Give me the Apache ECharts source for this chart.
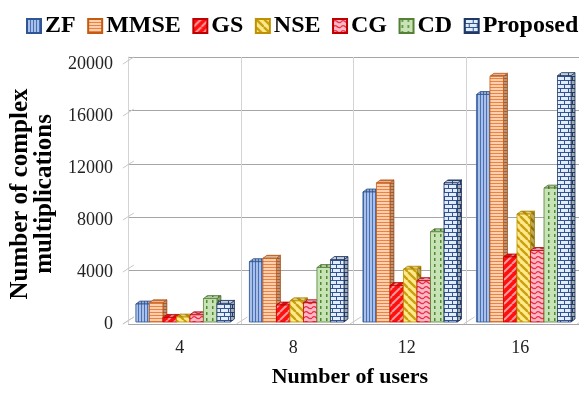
<!DOCTYPE html>
<html>
<head>
<meta charset="utf-8">
<script src="https://cdn.jsdelivr.net/npm/echarts@6/dist/echarts.min.js"></script>
<style>
  html, body { margin: 0; padding: 0; background: #fff; }
  #chart { width: 579px; height: 393px; }
</style>
</head>
<body>
<div id="chart"></div>
<script>
// Number of users on the x axis
const users = ['4', '8', '12', '16'];

// Complex multiplications per detector
const zf       = [1380, 4640, 10000, 17500];
const mmse     = [1480, 4900, 10700, 18900];
const gs       = [350, 1300, 2800, 5000];
const nse      = [380, 1630, 4060, 8300];
const cg       = [550, 1480, 3180, 5500];
const cd       = [1800, 4190, 6940, 10300];
const proposed = [1430, 4800, 10700, 18950];

// Value axis ticks
const yTicks = [0, 4000, 8000, 12000, 16000, 20000];

const seriesNames = ['ZF', 'MMSE', 'GS', 'NSE', 'CG', 'CD', 'Proposed'];
const seriesValues = [zf, mmse, gs, nse, cg, cd, proposed];

// ---- fill patterns ----
function tile(w, h, draw) {
  const c = document.createElement('canvas');
  c.width = w; c.height = h;
  const g = c.getContext('2d');
  draw(g, w, h);
  return c;
}
const patterns = [
  // vertical stripes
  tile(3, 3, (g) => {
    g.fillStyle = '#A9C1E8'; g.fillRect(0, 0, 3, 3);
    g.fillStyle = '#4A6FB5'; g.fillRect(0, 0, 1, 3);
  }),
  // horizontal stripes
  tile(3, 3, (g) => {
    g.fillStyle = '#FBD0B0'; g.fillRect(0, 0, 3, 3);
    g.fillStyle = '#EE8040'; g.fillRect(0, 0, 3, 1);
  }),
  // wide upward diagonal
  tile(8, 8, (g) => {
    g.fillStyle = '#FF1010'; g.fillRect(0, 0, 8, 8);
    g.strokeStyle = '#FF9A9A'; g.lineWidth = 2;
    for (let k = -8; k <= 16; k += 8) {
      g.beginPath(); g.moveTo(k, 8); g.lineTo(k + 8, 0); g.stroke();
    }
  }),
  // wide downward diagonal
  tile(8, 8, (g) => {
    g.fillStyle = '#FFE98A'; g.fillRect(0, 0, 8, 8);
    g.strokeStyle = '#C9A010'; g.lineWidth = 2.4;
    for (let k = -8; k <= 16; k += 8) {
      g.beginPath(); g.moveTo(k, 0); g.lineTo(k + 8, 8); g.stroke();
    }
  }),
  // wave
  tile(8, 5, (g) => {
    g.fillStyle = '#FFB8C4'; g.fillRect(0, 0, 8, 5);
    g.strokeStyle = '#E8304A'; g.lineWidth = 1.3;
    g.beginPath(); g.moveTo(0, 3);
    g.quadraticCurveTo(2, 0.5, 4, 2.5);
    g.quadraticCurveTo(6, 4.5, 8, 3);
    g.stroke();
  }),
  // dashed vertical dots
  tile(6, 6, (g) => {
    g.fillStyle = '#C8E3B6'; g.fillRect(0, 0, 6, 6);
    g.fillStyle = '#4F8A30'; g.fillRect(2, 0, 1.5, 3);
  }),
  // brick
  tile(8, 8, (g) => {
    g.fillStyle = '#E4ECF8'; g.fillRect(0, 0, 8, 8);
    g.fillStyle = '#2F5597';
    g.fillRect(0, 0, 8, 1); g.fillRect(0, 4, 8, 1);
    g.fillRect(0, 1, 1, 3); g.fillRect(4, 5, 1, 3);
  })
];
const borders = ['#2F5597', '#C55A11', '#C00000', '#BF9000', '#C00000', '#548235', '#203864'];

function fillOf(k) { return { image: patterns[k], repeat: 'repeat' }; }

const DX = 4, DY = -3;

function barRenderer(k) {
  return function (params, api) {
    const i = api.value(0), v = api.value(1);
    const top = api.coord([i, v]);
    const base = api.coord([i, 0]);
    const band = api.size([1, 0])[0];
    const bw = band * 0.119;
    const x0 = top[0] - 3.5 * bw + k * bw + 3.5;
    const yT = top[1] - 2, yB = base[1] - 2;
    const x1 = x0 + bw;
    const stroke = borders[k];
    return {
      type: 'group',
      children: [
        { type: 'polygon', shape: { points: [[x1, yT], [x1 + DX, yT + DY], [x1 + DX, yB + DY], [x1, yB]] },
          style: { fill: fillOf(k), stroke: stroke, lineWidth: 0.8 } },
        { type: 'polygon', shape: { points: [[x1, yT], [x1 + DX, yT + DY], [x1 + DX, yB + DY], [x1, yB]] },
          style: { fill: 'rgba(0,0,0,0.28)' } },
        { type: 'polygon', shape: { points: [[x0, yT], [x0 + DX, yT + DY], [x1 + DX, yT + DY], [x1, yT]] },
          style: { fill: fillOf(k), stroke: stroke, lineWidth: 0.8 } },
        { type: 'polygon', shape: { points: [[x0, yT], [x0 + DX, yT + DY], [x1 + DX, yT + DY], [x1, yT]] },
          style: { fill: 'rgba(0,0,0,0.12)' } },
        { type: 'rect', shape: { x: x0, y: yT, width: bw, height: yB - yT },
          style: { fill: fillOf(k), stroke: stroke, lineWidth: 0.8 } }
      ]
    };
  };
}

const barSeries = seriesNames.map((name, k) => ({
  name: name,
  type: 'custom',
  xAxisIndex: 0,
  yAxisIndex: 0,
  z: 5,
  itemStyle: { color: fillOf(k), borderColor: borders[k], borderWidth: 1 },
  renderItem: barRenderer(k),
  encode: { x: 0, y: 1 },
  data: seriesValues[k].map((v, i) => [i, v])
}));

// slanted depth lines for the value ticks and category boundaries
const depthLines = {
  type: 'custom',
  xAxisIndex: 0,
  yAxisIndex: 0,
  silent: true,
  z: 1,
  renderItem: function (params, api) {
    const kind = api.value(0), v = api.value(1);
    const band = api.size([1, 0])[0];
    let x, y;
    if (kind === 0) {
      const p = api.coord([0, v]);
      x = p[0] - band / 2; y = p[1];
    } else {
      const p = api.coord([v, 0]);
      x = p[0] - band / 2; y = p[1];
    }
    return { type: 'line', shape: { x1: x, y1: y, x2: x + 11, y2: y - 7 },
      style: { stroke: '#C8C8C8', lineWidth: 1 } };
  },
  encode: { x: 1, y: 1 },
  data: yTicks.map(v => [0, v]).concat(users.map((u, i) => [1, i]), [[1, users.length]])
};

const serif = '"Liberation Serif", "Times New Roman", serif';

const option = {
  animation: false,
  backgroundColor: '#ffffff',
  legend: {
    data: seriesNames,
    top: 9,
    left: 21,
    width: 590,
    icon: 'rect',
    itemWidth: 14,
    itemHeight: 14,
    itemGap: 11.5,
    textStyle: { fontFamily: serif, fontWeight: 'bold', fontSize: 24, color: '#000', padding: [0, 0, 0, -1] }
  },
  grid: [
    { left: 117, top: 64, width: 460, height: 267 },
    { left: 128, top: 57, width: 460, height: 267 }
  ],
  xAxis: [
    {
      type: 'category', gridIndex: 0, data: users,
      axisLine: { show: false }, axisTick: { show: false },
      axisLabel: { fontFamily: serif, fontSize: 18, color: '#222', margin: 15 },
      name: 'Number of users', nameLocation: 'middle', nameGap: 42,
      nameTextStyle: { fontFamily: serif, fontWeight: 'bold', fontSize: 22, color: '#000' }
    },
    {
      type: 'category', gridIndex: 1, data: users,
      axisLine: { show: false }, axisTick: { show: false }, axisLabel: { show: false },
      splitLine: { show: true, lineStyle: { color: '#D4D4D4', width: 1 } }
    }
  ],
  yAxis: [
    {
      type: 'value', gridIndex: 0, min: 0, max: 20000, interval: 4000,
      axisLine: { show: false }, axisTick: { show: false }, splitLine: { show: false },
      axisLabel: { fontFamily: serif, fontSize: 18, color: '#222', margin: 10,
        formatter: (v) => String(v) },
      name: 'Number of complex\nmultiplications', nameLocation: 'middle', nameGap: 60, nameRotate: 90,
      nameTextStyle: { fontFamily: serif, fontWeight: 'bold', fontSize: 25, color: '#000', lineHeight: 24 }
    },
    {
      type: 'value', gridIndex: 1, min: 0, max: 20000, interval: 4000,
      axisLine: { show: true, lineStyle: { color: '#D4D4D4' } }, axisTick: { show: false }, axisLabel: { show: false },
      splitLine: { show: true, lineStyle: { color: '#A6A6A6', width: 1.2 } }
    }
  ],
  series: [depthLines].concat(barSeries)
};

const chart = echarts.init(document.getElementById('chart'), null, { renderer: 'canvas' });
chart.setOption(option);
</script>
</body>
</html>
